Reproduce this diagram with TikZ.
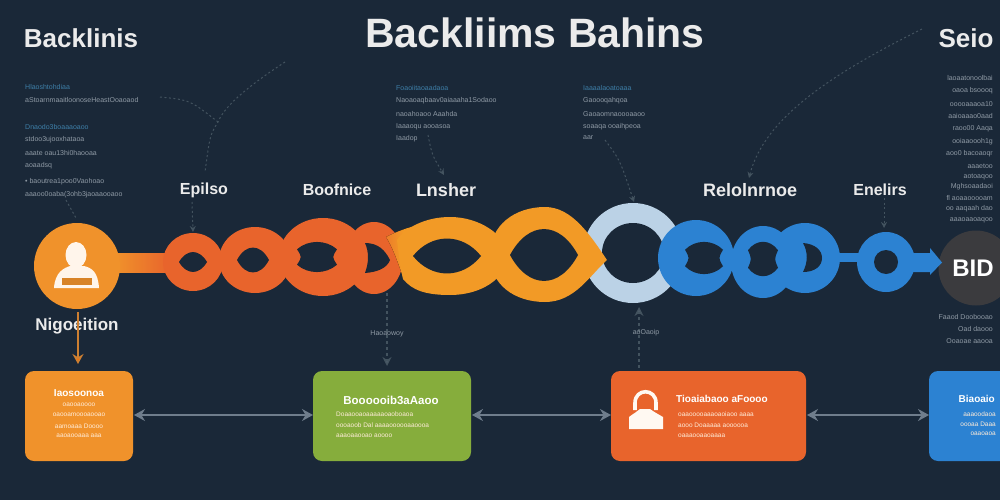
\documentclass[tikz,border=0pt]{standalone}
\usepackage{fontspec}
\setmainfont{Liberation Sans}
\usetikzlibrary{arrows.meta,calc}
\definecolor{bgc}{HTML}{1A2838}
\definecolor{orangeA}{HTML}{F0922B}
\definecolor{orangeB}{HTML}{F29A26}
\definecolor{redA}{HTML}{E8642C}
\definecolor{greenA}{HTML}{86AD3C}
\definecolor{blueA}{HTML}{2C82D2}
\definecolor{paleA}{HTML}{BBD2E6}
\definecolor{darkA}{HTML}{3B3B3E}
\definecolor{lineA}{HTML}{6F7D8C}
\definecolor{faintA}{HTML}{43535F}
\definecolor{smallA}{HTML}{8F9AA5}
\definecolor{smallB}{HTML}{3E7FA8}
\newcommand{\eyehole}[4]{\fill[bgc] ({#1-#3},{#2}) .. controls ({#1-.45*#3},{#2-1.33*#4}) and ({#1+.45*#3},{#2-1.33*#4}) .. ({#1+#3},{#2}) .. controls ({#1+.45*#3},{#2+1.33*#4}) and ({#1-.45*#3},{#2+1.33*#4}) .. cycle;}
\newcommand{\barrelhole}[4]{\fill[bgc] ({#1-#3},{#2-.55*#4}) .. controls ({#1-.45*#3},{#2-1.25*#4}) and ({#1+.45*#3},{#2-1.25*#4}) .. ({#1+#3},{#2-.55*#4}) .. controls ({#1+.75*#3},{#2}) .. ({#1+#3},{#2+.55*#4}) .. controls ({#1+.45*#3},{#2+1.25*#4}) and ({#1-.45*#3},{#2+1.25*#4}) .. ({#1-#3},{#2+.55*#4}) .. controls ({#1-.75*#3},{#2}) .. cycle;}
\tikzset{
  x=1pt,y=-1pt,
  head/.style={text=white!92!black,font=\fontsize{16}{16}\selectfont\bfseries,inner sep=0pt},
  tiny/.style={text=smallA,font=\fontsize{7}{7}\selectfont,inner sep=0pt},
  tinyl/.style={tiny,anchor=west},
  tinyr/.style={tiny,anchor=east},
  tinyb/.style={tinyl,text=smallB},
  boxt/.style={text=white,font=\fontsize{10}{10}\selectfont\bfseries,inner sep=0pt},
  boxs/.style={text=white!85!orange,font=\fontsize{6.5}{6.5}\selectfont,inner sep=0pt},
  card/.style={rounded corners=9pt},
  link/.style={draw=lineA,line width=1.4pt,{Stealth[length=11pt,width=12pt]}-{Stealth[length=11pt,width=12pt]}},
  faint/.style={draw=faintA,line width=1pt,dash pattern=on 2pt off 2.5pt},
  faintarrow/.style={faint,-{Stealth[length=6pt,width=6pt,fill=faintA]}},
  vert/.style={draw=faintA,line width=1.4pt,-{Stealth[length=9pt,width=9pt,fill=lineA]}}
}
\begin{document}
\begin{tikzpicture}
\useasboundingbox (0,0) rectangle (1000,500);
\fill[bgc] (0,0) rectangle (1000,500);
% faint guides
\coordinate (g1) at (285,62); \coordinate (g2) at (218,122); \coordinate (g3) at (205,172); \coordinate (g4) at (160,97);
\draw[faint] (g1) .. controls (250,85) and (225,105) .. (g2) .. controls (210,135) .. (g3);
\draw[faint] (g4) .. controls (190,100) .. (g2);
\coordinate (g5) at (192,202); \coordinate (g6) at (193,232);
\draw[faintarrow] (g5) -- (g6);
\coordinate (g7) at (66,200); \coordinate (g8) at (76,218);
\draw[faint] (g7) -- (g8);
\coordinate (g9) at (428,135); \coordinate (g10) at (444,175);
\draw[faintarrow] (g9) .. controls (432,155) .. (g10);
\coordinate (g11) at (605,140); \coordinate (g12) at (634,202);
\draw[faintarrow] (g11) .. controls (620,160) .. (g12);
\coordinate (g13) at (922,29); \coordinate (g14) at (749,178);
\draw[faintarrow] (g13) .. controls (840,70) and (765,115) .. (g14);
\coordinate (g15) at (884,198); \coordinate (g16) at (884,228);
\draw[faintarrow] (g15) -- (g16);
% end circle
\node[circle,fill=darkA,minimum size=75pt,inner sep=0pt] (bd) at (976,268) {};
\node[text=white,font=\fontsize{24}{24}\selectfont\bfseries,inner sep=0pt] (bdt) at (973,268) {BID};
% bar
\fill[left color=orangeA,right color=redA] (115,253) rectangle (170,272);
% red chain
\fill[redA] (193,262) ellipse [x radius=30,y radius=29];
\fill[redA] (255,260) ellipse [x radius=36,y radius=33];
\eyehole{193}{262}{14}{10}
\eyehole{253}{260}{16}{12.5}
\fill[redA] (374,258) ellipse [x radius=29,y radius=36];
\fill[bgc] (365,243) .. controls (378,243) and (385,250) .. (390,260) .. controls (387,268) and (378,272) .. (365,273) .. controls (369,262) and (369,252) .. cycle;
\fill[redA] (323,257) ellipse [x radius=44,y radius=39];
\barrelhole{317}{257}{20}{14}
% orange chain
\fill[left color=redA!55!orangeB,right color=orangeB,middle color=orangeB] (386,237) .. controls (392,246) and (398,262) .. (404,280) -- (420,270) -- (420,225) .. controls (408,227) and (396,232) .. cycle;
\fill[orangeB] (397,240) .. controls (405,228) and (425,217) .. (450,217) .. controls (480,217) and (505,235) .. (510,255) .. controls (505,280) and (480,295) .. (450,295) .. controls (425,295) and (412,290) .. (403,279) .. controls (400,265) .. cycle;
\eyehole{447}{256}{34}{17.5}
% pale ring
\fill[paleA] (633,253) ellipse [x radius=50,y radius=50];
\fill[bgc] (633,253) ellipse [x radius=31,y radius=30];
% second orange
\fill[orangeB] (490,255) .. controls (490,225) and (515,207) .. (545,207) .. controls (572,207) and (590,235) .. (607,260) .. controls (590,275) and (575,302) .. (545,302) .. controls (515,302) and (490,285) .. cycle;
\eyehole{544}{255}{34}{26}
% blue chain
\fill[blueA] (696,258) ellipse [x radius=38,y radius=38];
\fill[blueA] (763,262) ellipse [x radius=32,y radius=36];
\fill[blueA] (805,258) ellipse [x radius=35,y radius=35];
\barrelhole{704}{258}{19}{15}
\barrelhole{763}{259}{15}{16}
\fill[bgc] (803,243) .. controls (815,244) and (822,250) .. (822,258) .. controls (822,266) and (815,272) .. (803,272) .. controls (808,262) and (808,252) .. cycle;
\fill[blueA] (838,253) rectangle (860,262);
\fill[blueA] (886,262) ellipse [x radius=29,y radius=30];
\fill[bgc] (886,262) ellipse [x radius=12,y radius=12];
\fill[blueA] (910,253) -- (930,253) -- (930,248) -- (942,262.5) -- (930,275) -- (930,272) -- (910,272) -- cycle;
% avatar
\node[circle,fill=orangeA,minimum size=86pt,inner sep=0pt] (av) at (77,266) {};
\fill[white!92!orange] (76,255) ellipse [x radius=10.5,y radius=13];
\fill[white!92!orange] (54,288) .. controls (55,272) and (64,268) .. (70,266) -- (84,266) .. controls (92,268) and (98,272) .. (99,288) -- cycle;
\fill[orangeA!90!black] (62,278) rectangle (92,285);
% titles
\node[head,font=\fontsize{41}{41}\selectfont\bfseries] (title) at (535,33) {Backliims Bahins};
\node[head,font=\fontsize{26}{26}\selectfont\bfseries] (tl) at (81,38) {Backlinis};
\node[head,font=\fontsize{26}{26}\selectfont\bfseries] (tr) at (966,38) {Seio};
\node[head] (l1) at (204,190) {Epilso};
\node[head] (l2) at (337,190) {Boofnice};
\node[head,font=\fontsize{18}{18}\selectfont\bfseries] (l3) at (446,190) {Lnsher};
\node[head,font=\fontsize{18}{18}\selectfont\bfseries] (l4) at (750,190) {Relolnrnoe};
\node[head] (l5) at (880,190) {Enelirs};
\node[head,font=\fontsize{17}{17}\selectfont\bfseries] (l6) at (77,326) {Nigoeition};
% left text
\node[tinyb] (t1) at (25,87) {Hlaoshtohdiaa};
\node[tinyl] (t2) at (25,100) {aStoarnmaaitloonoseHeastOoaoaod};
\node[tinyb] (t3) at (25,127) {Dnaodo3boaaaoaoo};
\node[tinyl] (t4) at (25,140) {stdoo3ujooxhataoa};
\node[tinyl] (t5) at (25,153) {aaate oau13hi0haooaa};
\node[tinyl] (t6) at (25,166) {aoaadsq};
\node[tinyl] (t7) at (25,182) {• baoutrea1poo0Vaohoao};
\node[tinyl] (t8) at (25,195) {aaaoo0oaba(3ohb3jaoaaooaoo};
% middle text 1
\node[tinyb] (m1) at (396,88) {Foaoiitaoaadaoa};
\node[tinyl] (m2) at (396,101) {Naoaoaqbaav0aiaaaha1Sodaoo};
\node[tinyl] (m3) at (396,114) {naoahoaoo Aaahda};
\node[tinyl] (m4) at (396,127) {Iaaaoqu aooasoa};
\node[tinyl] (m5) at (396,139) {Iaadop};
% middle text 2
\node[tinyb] (n1) at (583,88) {Iaaaalaoatoaaa};
\node[tinyl] (n2) at (583,101) {Gaoooqahqoa};
\node[tinyl] (n3) at (583,114) {Gaoaomnaoooaaoo};
\node[tinyl] (n4) at (583,127) {soaaqa ooaihpeoa};
\node[tinyl] (n5) at (583,138) {aar};
% right text
\node[tinyr] (r1) at (993,78) {laoaatonoolbai};
\node[tinyr] (r2) at (993,91) {oaoa bsoooq};
\node[tinyr] (r3) at (993,104) {ooooaaaoa10};
\node[tinyr] (r4) at (993,116) {aaioaaao0aad};
\node[tinyr] (r5) at (993,129) {raoo00 Aaqa};
\node[tinyr] (r6) at (993,142) {ooiaaoooh1g};
\node[tinyr] (r7) at (993,154) {aoo0 bacoaoqr};
\node[tinyr] (r8) at (993,166) {aaaetoo};
\node[tinyr] (r9) at (993,177) {aotoaqoo};
\node[tinyr] (r10) at (993,187) {Mghsoaadaoi};
\node[tinyr] (r11) at (993,198) {fl aoaaooooam};
\node[tinyr] (r12) at (993,209) {oo aaqaah dao};
\node[tinyr] (r13) at (993,220) {aaaoaaoaqoo};
\node[tinyr] (s1) at (993,317) {Faaod Doobooao};
\node[tinyr] (s2) at (993,329) {Oad daooo};
\node[tinyr] (s3) at (993,341) {Ooaoae aaooa};
% boxes
\fill[orangeA,card] (25,371) rectangle (133,461);
\fill[greenA,card] (313,371) rectangle (471,461);
\fill[redA,card] (611,371) rectangle (806,461);
\fill[blueA,card] (929,371) rectangle (1010,461);
\coordinate (b1r) at (134,415); \coordinate (b2l) at (313,415);
\coordinate (b2r) at (472,415); \coordinate (b3l) at (611,415);
\coordinate (b3r) at (807,415); \coordinate (b4l) at (929,415);
\draw[link] (b1r) -- (b2l);
\draw[link] (b2r) -- (b3l);
\draw[link] (b3r) -- (b4l);
% box texts
\node[boxt] (o1) at (79,393) {Iaosoonoa};
\node[boxs] (o2) at (79,405) {oaooaoooo};
\node[boxs] (o3) at (79,415) {oaooamoooaooao};
\node[boxs] (o4) at (79,426) {aamoaaa Doooo};
\node[boxs] (o5) at (79,436) {aaoaooaaa aaa};
\node[boxt,font=\fontsize{11.5}{11.5}\selectfont\bfseries] (e1) at (391,400) {Boooooib3aAaoo};
\node[boxs,anchor=west] (e2) at (336,414) {Doaaooaoaaaaaoaoboaoa};
\node[boxs,anchor=west] (e3) at (336,425) {oooaoob Dal aaaaoooooaaoooa};
\node[boxs,anchor=west] (e4) at (336,436) {aaaoaaooao aoooo};
\node[boxt,anchor=west] (d1) at (676,399) {Tioaiabaoo aFoooo};
\node[boxs,anchor=west] (d2) at (678,414) {oaaooooaaaoaoiaoo aaaa};
\node[boxs,anchor=west] (d3) at (678,425) {aooo Doaaaaa aoooooa};
\node[boxs,anchor=west] (d4) at (678,436) {oaaaooaaoaaaa};
\node[boxt,anchor=east] (f1) at (995,399) {Biaoaio};
\node[boxs,anchor=east] (f2) at (996,414) {aaaoodaoa};
\node[boxs,anchor=east] (f3) at (996,424) {oooaa Daaa};
\node[boxs,anchor=east] (f4) at (996,434) {oaaoaoa};
% lock icon
\draw[white!95!orange,line width=3.6pt] (635,410) -- (635,403) .. controls (635,388) and (656,388) .. (656,403) -- (656,410);
\fill[white!95!orange] (629,429) -- (629,417) .. controls (634,413) and (637,412) .. (640,409) -- (650,409) .. controls (654,412) and (658,414) .. (663,417) -- (663,429) -- cycle;
% vertical arrows
\coordinate (v1) at (78,312); \coordinate (v2) at (78,364);
\draw[draw=orange!65!lineA,line width=1.5pt,-{Stealth[length=10pt,width=11pt,fill=orange!85!red]}] (v1) -- (v2);
\coordinate (v3) at (387,293); \coordinate (v4) at (387,366);
\draw[vert,dashed] (v3) -- (v4);
\node[tiny] (vl1) at (387,334) {Haoaowoy};
\coordinate (v5) at (639,368); \coordinate (v6) at (639,307);
\draw[vert,dash pattern=on 3pt off 3pt] (v5) -- (v6);
\node[tiny] (vl2) at (646,333) {aoOaoip};
\end{tikzpicture}
\end{document}
